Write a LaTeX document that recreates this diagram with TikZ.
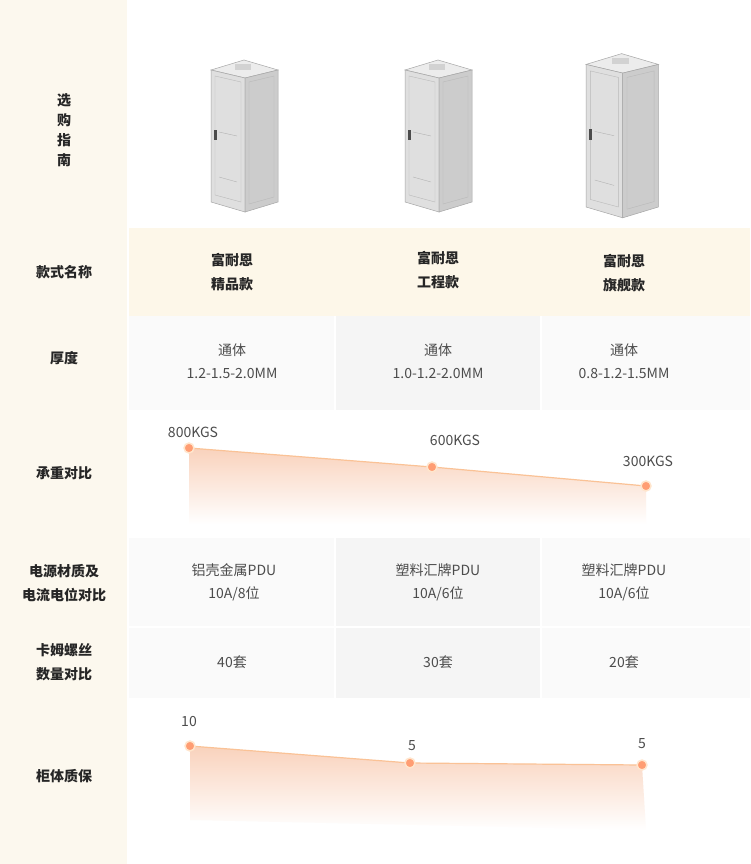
\documentclass[tikz,border=0pt]{standalone}
\usepackage{fontspec}
\setmainfont{Noto Sans CJK SC}
\definecolor{cream}{HTML}{FCF8EE}
\definecolor{cream2}{HTML}{FDF7E9}
\definecolor{peach}{HTML}{F9D2BC}
\begin{document}
\begin{tikzpicture}[x=1pt,y=-1pt,
  txt/.style={text=black!70,font=\fontsize{14}{23}\selectfont,align=center},
  lab/.style={text=black!85,font=\fontsize{14}{19}\selectfont\bfseries,align=center},
  dot/.style={circle,fill=orange!60!red!55,draw=orange!20,line width=1.5pt,inner sep=3.5pt},
  cab/.style={draw=gray!70,line width=0.5pt}]
\useasboundingbox (0,0) rectangle (750,864);
\fill[white] (0,0) rectangle (750,864);
\fill[cream] (0,0) rectangle (128,864);
\fill[cream2] (128,228) rectangle (750,316);
\fill[gray!4] (128,316) rectangle (750,410);
\fill[gray!8] (335,316) rectangle (541,410);
\fill[gray!4] (128,538) rectangle (750,698);
\fill[gray!8] (335,538) rectangle (541,698);
\draw[white,line width=2pt] (128,0)--(128,864) (335,538)--(335,698) (541,538)--(541,698) (335,316)--(335,410) (541,316)--(541,410) (128,627)--(750,627);
% left labels
\node[lab,font=\fontsize{14}{20}\selectfont\bfseries] (l0) at (64,130) {选\\购\\指\\南};
\node[lab] (l1) at (64,272) {款式名称};
\node[lab] (l2) at (64,358) {厚度};
\node[lab] (l3) at (64,473) {承重对比};
\node[lab,font=\fontsize{14}{24}\selectfont\bfseries] (l4) at (64,583) {电源材质及\\电流电位对比};
\node[lab,font=\fontsize{14}{24}\selectfont\bfseries] (l5) at (64,662) {卡姆螺丝\\数量对比};
\node[lab] (l6) at (64,776) {柜体质保};
% cabinets
\foreach \cx/\cy/\s [count=\i] in {211/52/1, 405/52/1, 586/45/1.08}{
 \begin{scope}[shift={(\cx,\cy)},scale=\s]
  \fill[gray!15,cab] (0,18)--(34,26)--(67,18)--(33,8)--cycle;
  \fill[gray!35] (24,12) rectangle (40,18);
  \fill[gray!25,cab] (0,18)--(34,26)--(34,160)--(0,150)--cycle;
  \fill[gray!40,cab] (34,26)--(67,18)--(67,150)--(34,160)--cycle;
  \draw[gray!55] (4,24)--(30,30)--(30,150)--(4,143)--cycle;
  \draw[gray!55] (38,30)--(63,24)--(63,145)--(38,152)--cycle;
  \draw[gray!60] (8,80)--(26,84) (8,125)--(26,130);
  \fill[black!70] (3,78) rectangle (6,88);
 \end{scope}}
% names
\node[lab,font=\fontsize{14}{24}\selectfont\bfseries] (n1) at (232,272) {富耐恩\\精品款};
\node[lab,font=\fontsize{14}{24}\selectfont\bfseries] (n2) at (438,270) {富耐恩\\工程款};
\node[lab,font=\fontsize{14}{24}\selectfont\bfseries] (n3) at (624,273) {富耐恩\\旗舰款};
\node[txt] (t1) at (232,361) {通体\\1.2-1.5-2.0MM};
\node[txt] (t2) at (438,361) {通体\\1.0-1.2-2.0MM};
\node[txt] (t3) at (624,361) {通体\\0.8-1.2-1.5MM};
\node[txt] (p1) at (234,582) {铝壳金属PDU\\10A/8位};
\node[txt] (p2) at (438,582) {塑料汇牌PDU\\10A/6位};
\node[txt] (p3) at (624,582) {塑料汇牌PDU\\10A/6位};
\node[txt] (s1) at (232,662) {40套};
\node[txt] (s2) at (438,662) {30套};
\node[txt] (s3) at (624,662) {20套};
% chart 1
\shade[top color=peach,bottom color=white] (189,448)--(432,467)--(646,486)--(646,524)--(189,524)--cycle;
\coordinate (a1) at (189,448); \coordinate (a2) at (432,467); \coordinate (a3) at (646,486);
\draw[peach!80!orange,line width=1.2pt] (a1)--(a2)--(a3);
\node[dot] at (a1) {}; \node[dot] at (a2) {}; \node[dot] at (a3) {};
\node[txt] at (193,432) {800KGS};
\node[txt] at (455,440) {600KGS};
\node[txt] at (648,461) {300KGS};
% chart 2
\shade[top color=peach,bottom color=white] (190,746)--(410,763)--(642,765)--(646,830)--(190,820)--cycle;
\coordinate (b1) at (190,746); \coordinate (b2) at (410,763); \coordinate (b3) at (642,765);
\draw[peach!80!orange,line width=1.2pt] (b1)--(b2)--(b3);
\node[dot] at (b1) {}; \node[dot] at (b2) {}; \node[dot] at (b3) {};
\node[txt] at (189,722) {10};
\node[txt] at (412,746) {5};
\node[txt] at (642,744) {5};
\end{tikzpicture}
\end{document}
